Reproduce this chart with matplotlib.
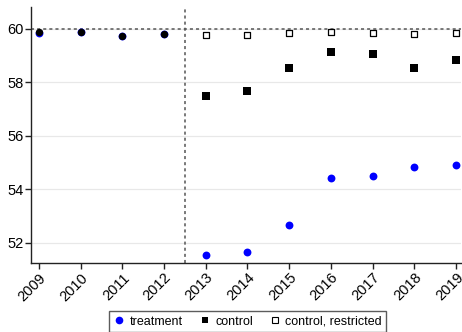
import matplotlib
matplotlib.use("Agg")
import matplotlib.pyplot as plt
from matplotlib.lines import Line2D

plt.rcParams['font.family'] = ['Liberation Sans', 'DejaVu Sans']

years = [2009, 2010, 2011, 2012, 2013, 2014, 2015, 2016, 2017, 2018, 2019]
treatment = [59.83, 59.87, 59.73, 59.79, 51.53, 51.65, 52.64, 54.41, 54.49, 54.81, 54.90]
control = [59.88, 59.87, 59.73, 59.80, 57.50, 57.65, 58.51, 59.11, 59.05, 58.51, 58.83]
years_restricted = [2013, 2014, 2015, 2016, 2017, 2018, 2019]
control_restricted = [59.76, 59.78, 59.85, 59.88, 59.84, 59.81, 59.84]
treat_year = 2012.5
legend_labels = ['treatment', 'control', 'control, restricted']

pre = [i for i, y in enumerate(years) if y < treat_year]
post = [i for i, y in enumerate(years) if y > treat_year]

fig = plt.figure(figsize=(4.62, 3.32), dpi=100)
ax = fig.add_axes([0.067, 0.208, 0.931, 0.771])

ax.scatter(years, treatment, s=32, color='blue', marker='o', linewidths=0, zorder=3)
# pre-period control drawn as round dots on top of treatment
ax.scatter([years[i] for i in pre], [control[i] for i in pre], s=28, color='black',
           marker='o', linewidths=0, zorder=4)
ax.scatter([years[i] for i in post], [control[i] for i in post], s=26, color='black',
           marker='s', linewidths=0, zorder=4)
ax.scatter(years_restricted, control_restricted, s=18, facecolor='white', edgecolor='black',
           marker='s', linewidths=0.9, zorder=4)

ax.axhline(60, color='#555555', linestyle=(0, (2, 2)), linewidth=1.1, zorder=2)
ax.axvline(treat_year, color='#555555', linestyle=(0, (2, 2)), linewidth=1.1, zorder=2)

ax.set_xlim(2008.81, 2019.12)
ax.set_ylim(51.24, 60.81)
ax.set_yticks([52, 54, 56, 58, 60])
ax.set_xticks(years)
ax.set_xticklabels([str(y) for y in years], rotation=45, ha='right', rotation_mode='anchor')
ax.yaxis.grid(True, color='#e8e8e8', linewidth=0.9)
ax.set_axisbelow(True)

for s in ['top', 'right']:
    ax.spines[s].set_visible(False)
for s in ['left', 'bottom']:
    ax.spines[s].set_color('#222222')
    ax.spines[s].set_linewidth(1.0)
ax.tick_params(axis='both', labelsize=10.5, color='#222222', length=4, width=1.0, pad=1.5)

handles = [
    Line2D([], [], linestyle='none', marker='o', markersize=5.5, color='blue', markeredgewidth=0),
    Line2D([], [], linestyle='none', marker='s', markersize=5, color='black', markeredgewidth=0),
    Line2D([], [], linestyle='none', marker='s', markersize=4.5, markerfacecolor='white',
           markeredgecolor='black', markeredgewidth=0.8),
]
fig.legend(handles, legend_labels, loc='upper center', bbox_to_anchor=(0.536, 0.062), ncol=3,
           fontsize=9, frameon=True, fancybox=False, edgecolor='#333333', handletextpad=0.4,
           handlelength=0.9, columnspacing=1.3, borderpad=0.35, borderaxespad=0)

fig.savefig('out.png', dpi=100)
